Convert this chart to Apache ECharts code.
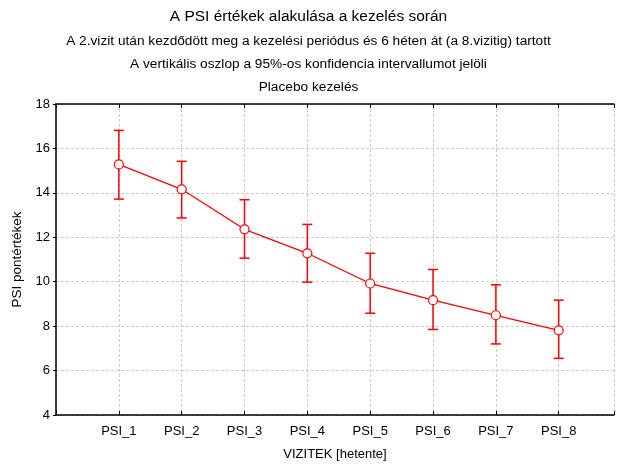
<!DOCTYPE html>
<html>
<head>
<meta charset="utf-8">
<script src="https://cdn.jsdelivr.net/npm/echarts@6/dist/echarts.min.js"></script>
<style>
  html, body { margin: 0; padding: 0; background: #fff; }
  #chart { width: 617px; height: 466px; }
</style>
</head>
<body>
<div id="chart"></div>
<script>
// visits (x positions 1..8)
const visits = ['PSI_1', 'PSI_2', 'PSI_3', 'PSI_4', 'PSI_5', 'PSI_6', 'PSI_7', 'PSI_8']
const means = [15.28, 14.16, 12.36, 11.28, 9.92, 9.17, 8.49, 7.81]
const upper = [16.81, 15.42, 13.69, 12.58, 11.28, 10.55, 9.86, 9.17]
const lower = [13.72, 12.87, 11.06, 9.98, 8.58, 7.85, 7.20, 6.55]
const yTicks = [4, 6, 8, 10, 12, 14, 16, 18]

const red = '#ff0000'
const font = 'Liberation Sans, Arial, sans-serif'

const chart = echarts.init(document.getElementById('chart'))

const lineData = means.map((v, i) => [i + 1, v])
const barData = lower.map((v, i) => [i + 1, v, upper[i]])

function xLabel(v) {
  return Number.isInteger(v) && v >= 1 && v <= visits.length ? visits[v - 1] : ''
}

const xCommon = {
  type: 'value',
  min: 0,
  max: 8.88,
  interval: 1,
  axisLine: { show: true, lineStyle: { color: '#000', width: 1.5 } },
  splitLine: { show: false }
}

const subStyle = { fontFamily: font, fontSize: 13.7, fontWeight: 'normal', color: '#000' }

const option = {
  backgroundColor: '#fff',
  animation: false,
  title: [
    { text: 'A PSI értékek alakulása a kezelés során', left: 'center', top: 4,
      textStyle: { fontFamily: font, fontSize: 15.5, fontWeight: 'normal', color: '#000' } },
    { text: 'A 2.vizit után kezdődött meg a kezelési periódus és 6 héten át (a 8.vizitig) tartott', left: 'center', top: 29,
      textStyle: subStyle },
    { text: 'A vertikális oszlop a 95%-os konfidencia intervallumot jelöli', left: 'center', top: 52,
      textStyle: subStyle },
    { text: 'Placebo kezelés', left: 'center', top: 75,
      textStyle: subStyle }
  ],
  grid: { left: 56, right: 0, top: 104, bottom: 50 },
  xAxis: [
    Object.assign({}, xCommon, {
      position: 'bottom',
      name: 'VIZITEK [hetente]',
      nameLocation: 'middle',
      nameGap: 33,
      nameTextStyle: { fontFamily: font, fontSize: 13, color: '#000' },
      axisTick: { show: true, inside: true, length: 4, lineStyle: { color: '#000' } },
      axisLabel: { fontFamily: font, fontSize: 13, color: '#000', margin: 10, formatter: xLabel },
      splitLine: { show: true, lineStyle: { color: '#cccccc', type: [3, 2], width: 1 } }
    }),
    Object.assign({}, xCommon, {
      position: 'top',
      axisTick: { show: true, inside: true, length: 4, lineStyle: { color: '#000' } },
      axisLabel: { show: false }
    })
  ],
  yAxis: {
    type: 'value',
    min: yTicks[0],
    max: yTicks[yTicks.length - 1],
    interval: 2,
    name: 'PSI pontértékek',
    nameLocation: 'middle',
    nameGap: 32,
    nameTextStyle: { fontFamily: font, fontSize: 13.5, color: '#000' },
    axisLine: { show: true, lineStyle: { color: '#000', width: 1.5 } },
    axisTick: { show: true, length: 3, lineStyle: { color: '#000' } },
    axisLabel: { fontFamily: font, fontSize: 13, color: '#000', margin: 6 },
    splitLine: { show: true, lineStyle: { color: '#cccccc', type: [3, 2], width: 1 } }
  },
  series: [
    {
      type: 'custom',
      xAxisIndex: 0,
      data: barData,
      z: 2,
      renderItem: function (params, api) {
        const x = api.value(0)
        const lo = api.coord([x, api.value(1)])
        const hi = api.coord([x, api.value(2)])
        const w = 5
        const style = { stroke: red, lineWidth: 1.5 }
        return {
          type: 'group',
          children: [
            { type: 'line', shape: { x1: lo[0], y1: lo[1], x2: hi[0], y2: hi[1] }, style: style },
            { type: 'line', shape: { x1: hi[0] - w, y1: hi[1], x2: hi[0] + w, y2: hi[1] }, style: style },
            { type: 'line', shape: { x1: lo[0] - w, y1: lo[1], x2: lo[0] + w, y2: lo[1] }, style: style }
          ]
        }
      }
    },
    {
      type: 'line',
      xAxisIndex: 0,
      data: lineData,
      z: 3,
      symbol: 'circle',
      symbolSize: 9,
      lineStyle: { color: red, width: 1.3 },
      itemStyle: { color: '#fff', borderColor: red, borderWidth: 1.2 }
    }
  ]
}

chart.setOption(option)
</script>
</body>
</html>
